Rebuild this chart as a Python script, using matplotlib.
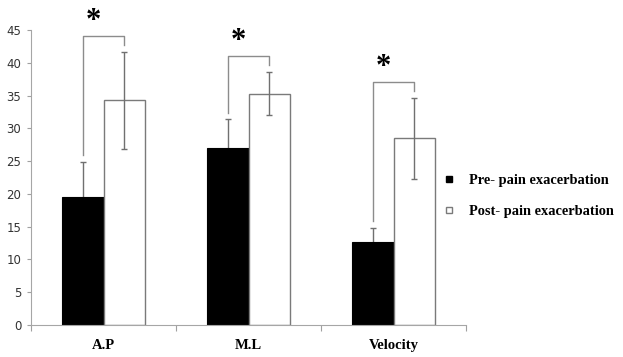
import matplotlib.pyplot as plt
from matplotlib.lines import Line2D
import numpy as np

categories = ["A.P", "M.L", "Velocity"]
pre_values = [19.5, 27.0, 12.6]
pre_errors = [5.4, 4.4, 2.2]
post_values = [34.3, 35.3, 28.5]
post_errors = [7.4, 3.3, 6.2]
series_labels = ["Pre- pain exacerbation", "Post- pain exacerbation"]

W, H = 623, 357
fig = plt.figure(figsize=(W / 100, H / 100), dpi=100)
ax = fig.add_axes([31 / W, (H - 325) / H, (466 - 31) / W, 295 / H])

x = np.arange(len(categories))
width = 0.283
grey = "#8c8c8c"

# pre error bars sit behind the black bars, so only the upper half shows
ax.errorbar(x - width / 2, pre_values, yerr=pre_errors, fmt="none", ecolor="#707070",
            elinewidth=1.0, capsize=2.5, capthick=1.0, zorder=1)
ax.bar(x - width / 2, pre_values, width, color="black", edgecolor="black", linewidth=0.8, zorder=2)
ax.bar(x + width / 2, post_values, width, color="white", edgecolor="#7a7a7a", linewidth=1.0, zorder=2)
ax.errorbar(x + width / 2, post_values, yerr=post_errors, fmt="none", ecolor="#707070",
            elinewidth=1.0, capsize=2.5, capthick=1.0, zorder=3)

# significance brackets
for i in range(len(categories)):
    left_y = pre_values[i] + pre_errors[i] + 1.0
    right_y = post_values[i] + post_errors[i] + 1.0
    top_y = post_values[i] + post_errors[i] + 2.4
    xl, xr = x[i] - width / 2, x[i] + width / 2
    ax.plot([xl, xl, xr, xr], [left_y, top_y, top_y, right_y], color=grey,
            linewidth=1.0, clip_on=False, zorder=3)
    ax.text(x[i] - 0.07, top_y + 2.2, "*", ha="center", va="center", fontsize=22,
            fontweight="bold", family="Liberation Serif", clip_on=False)

ax.set_xlim(-0.5, len(categories) - 0.5)
ax.set_ylim(0, 45)
ax.set_yticks(np.arange(0, 46, 5))
ax.set_xticks(np.arange(-0.5, len(categories), 1.0))
ax.set_xticklabels([])
ax.set_xticks(x, minor=True)
ax.set_xticklabels(categories, minor=True, fontweight="bold", family="Liberation Serif",
                   fontsize=10.5)
ax.tick_params(axis="x", which="minor", length=0, pad=10)
ax.tick_params(axis="x", which="major", length=4, color="#a0a0a0", direction="out")
ax.tick_params(axis="y", length=3, color="#a0a0a0", labelsize=8.5, labelcolor="#333333", pad=4)

for side in ["top", "right"]:
    ax.spines[side].set_visible(False)
ax.spines["left"].set_color("#a6a6a6")
ax.spines["bottom"].set_color("#a6a6a6")

handles = [
    Line2D([], [], marker="s", linestyle="none", markersize=5, markerfacecolor="black",
           markeredgecolor="black"),
    Line2D([], [], marker="s", linestyle="none", markersize=5, markerfacecolor="white",
           markeredgecolor="#7a7a7a"),
]
fig.legend(handles, series_labels, loc="center left", bbox_to_anchor=(427 / W, 1 - 196 / H),
           frameon=False, handlelength=1.2, handletextpad=0.8, labelspacing=1.2,
           prop={"family": "Liberation Serif", "weight": "bold", "size": 10.4})

fig.savefig("out.png", dpi=100)
